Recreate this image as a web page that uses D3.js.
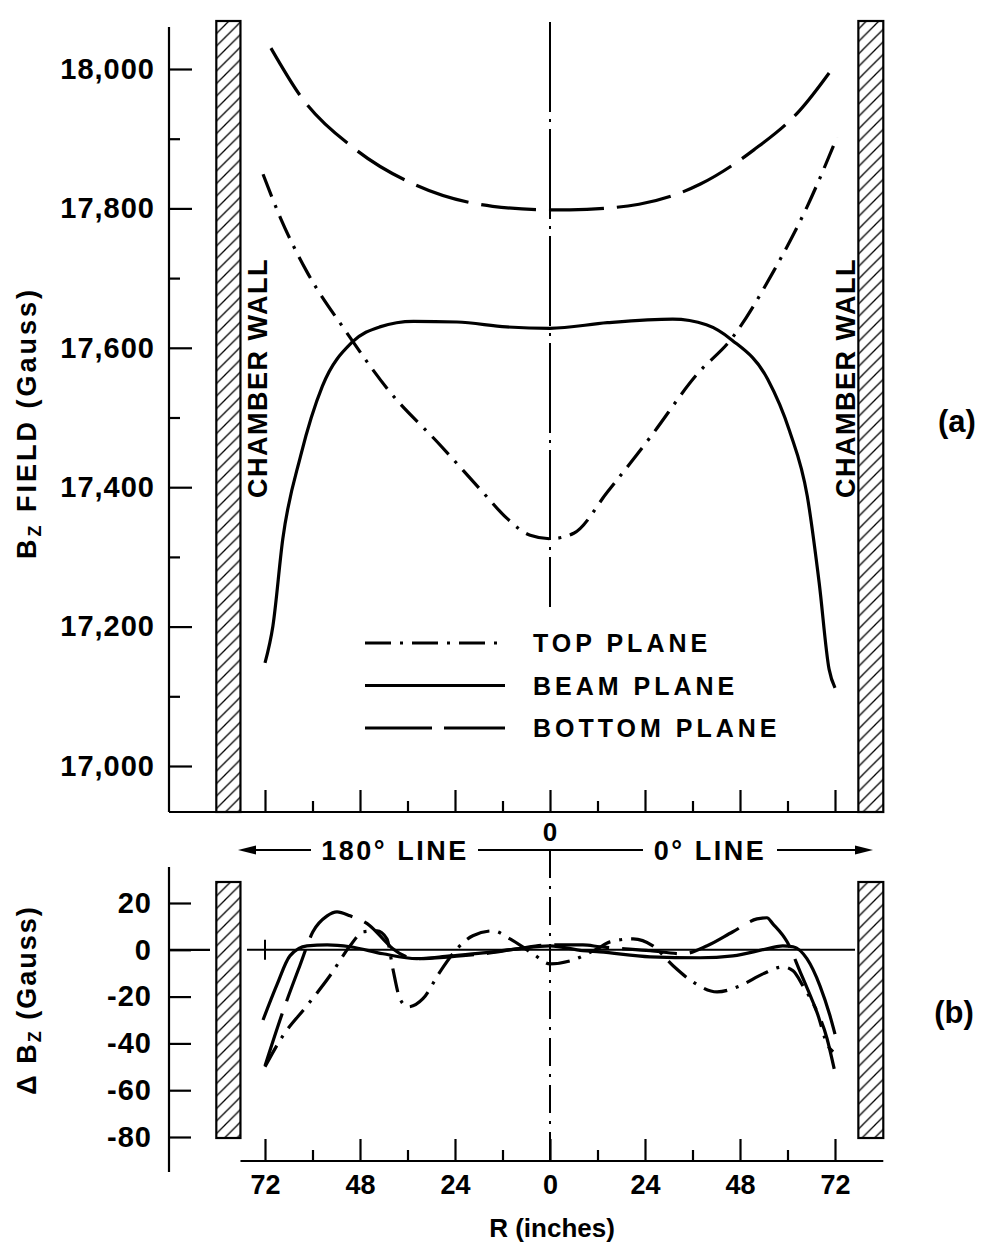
<!DOCTYPE html>
<html lang="en">
<head>
<meta charset="UTF-8">
<title>Bz field</title>
<script src="https://d3js.org/d3.v7.min.js"></script>
<style>
  body { margin: 0; background: #fff; }
  svg { display: block; font-family: "Liberation Sans", Arial, sans-serif; font-weight: bold; }
</style>
</head>
<body>
<script>
// ---- data (R in inches: negative = 180 deg line, positive = 0 deg line) ----
const topPlaneR   = [-72.5, -68, -61.5, -51.5, -40.5, -28, -17, -11, -5, 0, 6, 14.5, 25.5, 37, 46, 56.5, 65, 72.5];
const topPlaneB   = [17849, 17785, 17710, 17623, 17537, 17462, 17393, 17356, 17331, 17326, 17334, 17393, 17473, 17561, 17614, 17710, 17803, 17902];
const beamPlaneR  = [-72, -70, -67.5, -63, -57.5, -50, -43, -34.5, -23.5, -11, 0, 14.5, 31, 39.5, 46, 55, 60.5, 65, 68, 70.5, 72];
const beamPlaneB  = [17148, 17201, 17326, 17445, 17545, 17608, 17630, 17638, 17637, 17630, 17628, 17636, 17641, 17633, 17611, 17555, 17481, 17387, 17263, 17139, 17112];
const botPlaneR   = [-70.5, -63, -49, -34.5, -14.5, 0, 5, 22.5, 38, 51.5, 63, 71.5];
const botPlaneB   = [18030, 17961, 17884, 17835, 17803, 17798, 17798, 17806, 17835, 17884, 17940, 18002];

const dTopR  = [-72, -67.5, -61.4, -55.6, -50.5, -47.2, -43.7, -41.2, -39.7, -37.9, -35.9, -32.1, -27.8, -23.5, -19.5, -14.4, -10.1, -4.3, 0, 5.1, 11.9, 15.2, 21, 26, 31.1, 36.1, 42.2, 48, 53.8, 58.9, 61.4, 63.9, 67.4, 70.2, 71.5];
const dTopB  = [-50, -36.8, -23.9, -11.1, 1.7, 7.7, 8.1, 4.7, -8.1, -20.9, -24.4, -20.9, -9.4, 0.4, 6, 8.1, 4.7, -1.7, -6, -4.7, 0.4, 3.4, 4.7, 1.7, -6.8, -13.7, -18, -15.4, -10.3, -7.3, -9, -15.4, -26.5, -41, -43.6];
const dBeamR = [-72.5, -69, -65.7, -61.4, -56.3, -50.5, -42.2, -33.6, -25.3, -16.9, -8.3, 0, 8.3, 12.6, 25.3, 37.9, 46.2, 54.8, 58.8, 61.4, 64.9, 68.2, 70.7, 72];
const dBeamB = [-30, -15, -2.6, 1.7, 2.1, 1.3, -1.7, -3.8, -2.6, -1.3, 0.4, 1.7, -0.4, -0.9, -3, -3.4, -2.6, 0.4, 1.7, 1.3, -3.8, -15.4, -28, -36];
const dBotR  = [-72, -67.5, -63.2, -59.9, -56.3, -53.8, -50.5, -45.5, -42.2, -39.7, -33.6, -25.3, -16.9, -8.3, 0, 8.3, 12.6, 25.3, 33.6, 39.7, 46.2, 52.3, 54.8, 56.3, 59.9, 63.2, 66.4, 70, 71.8];
const dBotB  = [-49.6, -26.5, -6.8, 7.7, 14.5, 16.2, 14.5, 10.3, 4.7, 0.4, -3.8, -3, -1.7, 0.4, 2.1, 2.1, 1.3, -0.4, -1.7, 1.7, 7.7, 13.2, 13.7, 11.1, 3.4, -9.4, -22.2, -38, -50.9];

const yTicksA = [17000, 17200, 17400, 17600, 17800, 18000];
const yTicksB = [20, 0, -20, -40, -60, -80];
const xTicks  = [-72, -48, -24, 0, 24, 48, 72];
const xMinor  = [-60, -36, -12, 12, 36, 60];
const legendNames = ["TOP PLANE", "BEAM PLANE", "BOTTOM PLANE"];

// ---- layout ----
const W = 983, H = 1243;
const dashes = { top: "24,9,3,9", beam: null, bottom: "55,13" };

const x  = d3.scaleLinear().domain([-72, 72]).range([265, 835]);
const yA = d3.scaleLinear().domain([17000, 18000]).range([766, 69]);
const yB = d3.scaleLinear().domain([-80, 20]).range([1137, 903]);

const axisX = 169;
const baseA = 812, baseB = 1161;

const svg = d3.select("body").append("svg")
    .attr("width", W).attr("height", H);

const defs = svg.append("defs");
const pat = defs.append("pattern")
    .attr("id", "hatch").attr("patternUnits", "userSpaceOnUse")
    .attr("width", 12.5).attr("height", 12.5);
pat.append("path")
    .attr("d", "M-2,14.5 L14.5,-2 M-2,2 L2,-2 M10.5,14.5 L14.5,10.5")
    .attr("stroke", "#000").attr("stroke-width", 1.3);

// walls (R 78..84 both sides)
function wall(y0, y1) {
  [[-84.3, -78.2], [77.9, 84.2]].forEach(([a, b]) => {
    svg.append("rect")
      .attr("x", x(a)).attr("y", y0)
      .attr("width", x(b) - x(a)).attr("height", y1 - y0)
      .attr("fill", "url(#hatch)")
      .attr("stroke", "#000").attr("stroke-width", 2.2);
  });
}
wall(21, baseA);
wall(882, 1138);

// ---------- panel (a) ----------
svg.append("line").attr("x1", axisX).attr("x2", axisX).attr("y1", 27).attr("y2", baseA)
  .attr("stroke", "#000").attr("stroke-width", 2.2);
svg.append("line").attr("x1", axisX).attr("x2", x(84.2)).attr("y1", baseA).attr("y2", baseA)
  .attr("stroke", "#000").attr("stroke-width", 2.2);

const gYA = svg.append("g").attr("transform", `translate(${axisX},0)`)
  .call(d3.axisLeft(yA).tickValues(yTicksA).tickFormat(d3.format(",")).tickSize(-23).tickPadding(14));
svg.append("g").attr("transform", `translate(${axisX},0)`)
  .call(d3.axisLeft(yA).tickValues(d3.range(17100, 18000, 200)).tickFormat("").tickSize(-11));

svg.append("g").attr("transform", `translate(0,${baseA})`)
  .call(d3.axisBottom(x).tickValues(xTicks).tickFormat("").tickSize(-22));
svg.append("g").attr("transform", `translate(0,${baseA})`)
  .call(d3.axisBottom(x).tickValues(xMinor).tickFormat("").tickSize(-11));

// center line (a)
svg.append("line").attr("x1", x(0)).attr("x2", x(0)).attr("y1", 22).attr("y2", 607)
  .attr("stroke", "#000").attr("stroke-width", 2).attr("stroke-dasharray", "90,7,3,7");

const lineA = d3.line().x(d => x(d[0])).y(d => yA(d[1])).curve(d3.curveMonotoneX);
const lineB = d3.line().x(d => x(d[0])).y(d => yB(d[1])).curve(d3.curveMonotoneX);

function curve(gen, rs, vs, dash) {
  svg.append("path")
    .datum(d3.zip(rs, vs))
    .attr("d", gen)
    .attr("fill", "none").attr("stroke", "#000").attr("stroke-width", 3.2)
    .attr("stroke-dasharray", dash);
}
curve(lineA, botPlaneR, botPlaneB, dashes.bottom);
curve(lineA, topPlaneR, topPlaneB, dashes.top);
curve(lineA, beamPlaneR, beamPlaneB, dashes.beam);

// legend
const legDash = ["26,9,3,9", null, "67,12"];
legendNames.forEach((n, i) => {
  const ly = 643 + i * 42.5;
  svg.append("line").attr("x1", 365).attr("x2", 505).attr("y1", ly).attr("y2", ly)
    .attr("stroke", "#000").attr("stroke-width", 3.2)
    .attr("stroke-dasharray", legDash[i]);
  svg.append("text").attr("x", 533).attr("y", ly + 9)
    .attr("font-size", 25).attr("letter-spacing", 4).text(n);
});

// chamber wall labels
[[257, 378], [845, 378]].forEach(([cx, cy]) => {
  svg.append("text")
    .attr("transform", `translate(${cx},${cy}) rotate(-90)`)
    .attr("text-anchor", "middle").attr("dy", "0.36em")
    .attr("font-size", 27).attr("letter-spacing", 1.5)
    .text("CHAMBER WALL");
});

// y title (a)
const tA = svg.append("text")
  .attr("transform", "translate(36,423) rotate(-90)")
  .attr("text-anchor", "middle").attr("font-size", 27).attr("letter-spacing", 3);
tA.append("tspan").text("B");
tA.append("tspan").attr("font-size", 18).attr("dy", 5).text("Z");
tA.append("tspan").attr("dy", -5).text(" FIELD (Gauss)");

svg.append("text").attr("x", 957).attr("y", 421).attr("dy", "0.36em")
  .attr("text-anchor", "middle").attr("font-size", 31).text("(a)");

// ---------- 180 / 0 line band ----------
svg.append("text").attr("x", x(0)).attr("y", 832).attr("dy", "0.36em")
  .attr("text-anchor", "middle").attr("font-size", 26).text("0");
const arrowY = 850;
[[250, 311], [478, 643], [777, 861]].forEach(([a, b]) => {
  svg.append("line").attr("x1", a).attr("x2", b).attr("y1", arrowY).attr("y2", arrowY)
    .attr("stroke", "#000").attr("stroke-width", 2);
});
svg.append("path").attr("d", `M238,${arrowY} L256,${arrowY - 4.5} L256,${arrowY + 4.5} Z`);
svg.append("path").attr("d", `M873,${arrowY} L855,${arrowY - 4.5} L855,${arrowY + 4.5} Z`);
svg.append("text").attr("x", 395).attr("y", arrowY).attr("dy", "0.36em")
  .attr("text-anchor", "middle").attr("font-size", 27).attr("letter-spacing", 2.5).text("180° LINE");
svg.append("text").attr("x", 710).attr("y", arrowY).attr("dy", "0.36em")
  .attr("text-anchor", "middle").attr("font-size", 27).attr("letter-spacing", 2.5).text("0° LINE");

// ---------- panel (b) ----------
svg.append("line").attr("x1", axisX).attr("x2", axisX).attr("y1", 867).attr("y2", 1172)
  .attr("stroke", "#000").attr("stroke-width", 2.2);
svg.append("line").attr("x1", x(-78.2)).attr("x2", x(84.2)).attr("y1", baseB).attr("y2", baseB)
  .attr("stroke", "#000").attr("stroke-width", 2.2);

const gYB = svg.append("g").attr("transform", `translate(${axisX},0)`)
  .call(d3.axisLeft(yB).tickValues(yTicksB).tickFormat(d => d < 0 ? "-" + Math.abs(d) : d).tickSize(-22).tickPadding(17));

const gXB = svg.append("g").attr("transform", `translate(0,${baseB})`)
  .call(d3.axisBottom(x).tickValues(xTicks).tickFormat(d => Math.abs(d)).tickSize(-22).tickPadding(14));
svg.append("g").attr("transform", `translate(0,${baseB})`)
  .call(d3.axisBottom(x).tickValues(xMinor).tickFormat("").tickSize(-11));

[gYA, gYB, gXB].forEach(g => g.selectAll("text").attr("font-size", 29).attr("letter-spacing", 1).attr("font-family", null).attr("fill", "#000"));
svg.selectAll(".domain").remove();
svg.selectAll(".tick line").attr("stroke-width", 2.2);
gXB.selectAll("text").attr("font-size", 27).attr("letter-spacing", 0);

// zero line, + mark, tick extension
svg.append("line").attr("x1", axisX).attr("x2", 210).attr("y1", yB(0)).attr("y2", yB(0))
  .attr("stroke", "#000").attr("stroke-width", 2.2);
svg.append("line").attr("x1", 247).attr("x2", 855).attr("y1", yB(0)).attr("y2", yB(0))
  .attr("stroke", "#000").attr("stroke-width", 2);
svg.append("line").attr("x1", x(-72)).attr("x2", x(-72)).attr("y1", yB(0) - 10).attr("y2", yB(0) + 10)
  .attr("stroke", "#000").attr("stroke-width", 2);

// center line (b)
svg.append("line").attr("x1", x(0)).attr("x2", x(0)).attr("y1", arrowY).attr("y2", baseB)
  .attr("stroke", "#000").attr("stroke-width", 2).attr("stroke-dasharray", "28,8,3,8");

curve(lineB, dBotR, dBotB, dashes.bottom);
curve(lineB, dTopR, dTopB, dashes.top);
curve(lineB, dBeamR, dBeamB, dashes.beam);

// y title (b)
const tB = svg.append("text")
  .attr("transform", "translate(36,1000) rotate(-90)")
  .attr("text-anchor", "middle").attr("font-size", 27).attr("letter-spacing", 2);
tB.append("tspan").text("Δ B");
tB.append("tspan").attr("font-size", 18).attr("dy", 5).text("Z");
tB.append("tspan").attr("dy", -5).text("  (Gauss)");

svg.append("text").attr("x", 954).attr("y", 1012).attr("dy", "0.36em")
  .attr("text-anchor", "middle").attr("font-size", 31).text("(b)");

svg.append("text").attr("x", 552).attr("y", 1228).attr("dy", "0.36em")
  .attr("text-anchor", "middle").attr("font-size", 26).text("R (inches)");
</script>
</body>
</html>
